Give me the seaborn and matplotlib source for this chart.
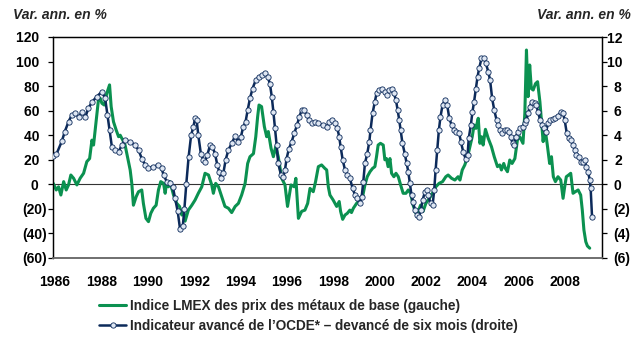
import matplotlib
matplotlib.use("Agg")
import matplotlib.pyplot as plt
import numpy as np
import pandas as pd
import seaborn as sns
from matplotlib.ticker import FixedLocator, FuncFormatter

# ---------------- data ----------------
lmex_dates = [
    1985.92, 1986.05, 1986.15, 1986.25, 1986.37, 1986.48, 1986.58, 1986.68, 1986.80, 1986.94,
    1987.08, 1987.23, 1987.37, 1987.49, 1987.59, 1987.66, 1987.73, 1987.80, 1987.87, 1987.95,
    1988.02, 1988.12, 1988.23, 1988.35, 1988.42, 1988.52, 1988.64, 1988.74, 1988.81, 1988.92,
    1989.02, 1989.14, 1989.24, 1989.31, 1989.38, 1989.50, 1989.60, 1989.74, 1989.81, 1989.92,
    1990.03, 1990.13, 1990.24, 1990.36, 1990.46, 1990.56, 1990.68, 1990.75, 1990.82, 1990.89,
    1990.96, 1991.11, 1991.25, 1991.37, 1991.47, 1991.54, 1991.61, 1991.75, 1991.90, 1992.04,
    1992.18, 1992.33, 1992.47, 1992.62, 1992.76, 1992.83, 1992.93, 1993.05, 1993.19, 1993.33,
    1993.48, 1993.62, 1993.77, 1993.91, 1994.05, 1994.20, 1994.31, 1994.41, 1994.56, 1994.66,
    1994.74, 1994.80, 1994.91, 1995.03, 1995.13, 1995.20, 1995.32, 1995.42, 1995.52, 1995.63,
    1995.78, 1995.92, 1996.03, 1996.18, 1996.32, 1996.39, 1996.50, 1996.64, 1996.78, 1996.90,
    1997.00, 1997.14, 1997.24, 1997.36, 1997.50, 1997.64, 1997.72, 1997.79, 1997.86, 1998.00,
    1998.15, 1998.26, 1998.32, 1998.41, 1998.51, 1998.61, 1998.72, 1998.79, 1998.87, 1999.01,
    1999.15, 1999.27, 1999.37, 1999.47, 1999.59, 1999.70, 1999.80, 1999.87, 1999.94, 2000.04,
    2000.16, 2000.23, 2000.30, 2000.37, 2000.45, 2000.52, 2000.62, 2000.71, 2000.81, 2000.91,
    2001.02, 2001.14, 2001.24, 2001.34, 2001.45, 2001.57, 2001.67, 2001.77, 2001.88, 2002.00,
    2002.10, 2002.20, 2002.32, 2002.43, 2002.57, 2002.72, 2002.86, 2002.96, 2003.11, 2003.25,
    2003.39, 2003.47, 2003.57, 2003.68, 2003.80, 2003.90, 2004.00, 2004.08, 2004.16, 2004.26,
    2004.33, 2004.40, 2004.47, 2004.57, 2004.69, 2004.83, 2004.95, 2005.09, 2005.19, 2005.26,
    2005.36, 2005.43, 2005.52, 2005.62, 2005.72, 2005.84, 2005.95, 2006.05, 2006.19, 2006.27,
    2006.34, 2006.41, 2006.48, 2006.55, 2006.63, 2006.73, 2006.82, 2006.92, 2007.02, 2007.06,
    2007.13, 2007.24, 2007.34, 2007.42, 2007.50, 2007.59, 2007.70, 2007.82, 2007.92, 2007.99,
    2008.06, 2008.16, 2008.25, 2008.35, 2008.45, 2008.57, 2008.68, 2008.75, 2008.82, 2008.90,
    2008.97, 2009.07,
]
lmex_values = [
    0.8, -4.6, -2, -8.7, 2.2, -4.6, -0.5, 7.6, 4.9, -0.5,
    4.9, 9, 18.5, 21, 36, 32, 44, 56.5, 68.7, 70,
    66, 64.6, 74, 81, 63.3, 51, 44, 38.8, 40, 36,
    32, 21, 11.7, 0.8, -17, -10, -6, -4.6, -15.5, -27.7,
    -30.4, -23.6, -19.5, -17, -4.6, 2.2, 0.8, -7.3, 2.2, -2,
    2.2, -8.7, -15.5, -18, -25, -21, -30, -21, -17, -12.8,
    -7.3, -2, 9, 7.6, -0.5, -7.3, 0.8, -2, -10, -18,
    -19.5, -23, -18, -15.5, -8.7, 0.8, 17, 22.5, 25, 38.8,
    55, 64.6, 63.3, 47, 38.8, 43, 29.3, 22.5, 30.7, 22.5,
    4.9, -0.5, -18, -0.5, -2, 4.9, -27.7, -22, -21, -15.5,
    -3.3, -6, 2.2, 14.4, 15.8, 13, 11.7, -2, -8.7, -12.8,
    -18, -14, -22, -28.5, -25, -23.6, -21, -23, -19.5, -15.5,
    -12.8, -10, -0.5, 6.2, 10.3, 13, 14.4, 22.5, 32, 33.4,
    32, 20, 21, 14.4, 21, 9, 6.2, 9, 6.2, -0.5,
    -7.3, -7.3, -4.6, -7.3, -17, -23.6, -22, -17, -22, -15.5,
    -12.8, -10, -6, -2, 0.8, 2.2, 6.2, 7.6, 4.9, 3.5,
    6.2, 3.5, 11.7, 15.8, 22.5, 30.7, 38.8, 48.3, 45.6, 53.8,
    33.4, 38.8, 32, 44.8, 37.5, 30.7, 22.5, 14.4, 15.8, 11.7,
    17, 13, 10.3, 19.8, 17, 21, 36, 38.8, 33.4, 57.8,
    109.4, 71.4, 97.2, 78, 76.8, 82, 83.6, 67.3, 44, 34.8,
    47, 32, 17, 22.5, 6.2, 2.2, 6.2, 3.5, -11.4, -2,
    6.2, 7.6, 9, -7.3, -6, -4.6, -8.7, -21, -37.2, -46.7,
    -50.2, -52,
]

ocde_dates = [
    1985.92, 1986.06, 1986.29, 1986.42, 1986.58, 1986.72, 1986.87, 1987.02, 1987.15, 1987.30,
    1987.44, 1987.59, 1987.80, 1988.02, 1988.16, 1988.26, 1988.35, 1988.45, 1988.59, 1988.74,
    1988.88, 1989.02, 1989.24, 1989.45, 1989.60, 1989.74, 1989.89, 1990.02, 1990.24, 1990.46,
    1990.60, 1990.68, 1990.82, 1990.96, 1991.08, 1991.18, 1991.29, 1991.39, 1991.51, 1991.58,
    1991.66, 1991.76, 1991.87, 1991.97, 1992.04, 1992.11, 1992.18, 1992.29, 1992.40, 1992.47,
    1992.57, 1992.69, 1992.79, 1992.90, 1993.00, 1993.08, 1993.16, 1993.26, 1993.36, 1993.48,
    1993.62, 1993.77, 1993.88, 1994.02, 1994.12, 1994.22, 1994.31, 1994.41, 1994.52, 1994.66,
    1994.80, 1994.94, 1995.06, 1995.17, 1995.27, 1995.35, 1995.42, 1995.49, 1995.56, 1995.63,
    1995.75, 1995.85, 1995.92, 1995.99, 1996.09, 1996.21, 1996.32, 1996.44, 1996.54, 1996.64,
    1996.75, 1996.85, 1996.95, 1997.07, 1997.21, 1997.36, 1997.57, 1997.72, 1997.83, 1997.93,
    1998.08, 1998.18, 1998.26, 1998.32, 1998.41, 1998.51, 1998.61, 1998.72, 1998.84, 1998.94,
    1999.04, 1999.15, 1999.23, 1999.30, 1999.37, 1999.47, 1999.56, 1999.61, 1999.70, 1999.80,
    1999.87, 1999.97, 2000.09, 2000.23, 2000.33, 2000.42, 2000.52, 2000.62, 2000.71, 2000.78,
    2000.85, 2000.91, 2000.99, 2001.09, 2001.17, 2001.24, 2001.31, 2001.38, 2001.45, 2001.52,
    2001.62, 2001.71, 2001.78, 2001.86, 2001.96, 2002.03, 2002.10, 2002.20, 2002.29, 2002.36,
    2002.42, 2002.49, 2002.56, 2002.63, 2002.72, 2002.82, 2002.92, 2003.01, 2003.11, 2003.21,
    2003.32, 2003.44, 2003.51, 2003.61, 2003.71, 2003.80, 2003.85, 2003.94, 2004.01, 2004.08,
    2004.16, 2004.23, 2004.30, 2004.40, 2004.51, 2004.59, 2004.69, 2004.77, 2004.86, 2004.95,
    2005.05, 2005.12, 2005.22, 2005.30, 2005.41, 2005.51, 2005.59, 2005.66, 2005.74, 2005.81,
    2005.88, 2005.98, 2006.08, 2006.17, 2006.27, 2006.34, 2006.41, 2006.48, 2006.58, 2006.70,
    2006.77, 2006.84, 2006.93, 2007.02, 2007.10, 2007.19, 2007.27, 2007.37, 2007.49, 2007.59,
    2007.70, 2007.82, 2007.92, 2007.99, 2008.08, 2008.16, 2008.25, 2008.35, 2008.42, 2008.49,
    2008.59, 2008.68, 2008.78, 2008.85, 2008.92, 2009.00, 2009.07, 2009.11, 2009.17,
]
ocde_values = [
    2.30, 2.47, 3.50, 4.30, 5.10, 5.65, 5.79, 5.46, 5.90, 5.46,
    6.20, 6.70, 7.15, 7.55, 7.00, 5.65, 4.40, 3.07, 2.80, 2.66,
    3.20, 3.60, 3.48, 3.20, 2.80, 2.10, 1.58, 1.30, 1.44, 1.58,
    1.30, 0.76, 0.22, 0.08, -0.20, -1.14, -2.20, -3.60, -3.40, -2.00,
    0.00, 2.20, 4.00, 4.70, 5.38, 5.20, 4.00, 2.50, 2.00, 1.85,
    2.40, 3.20, 3.07, 2.50, 1.58, 1.03, 0.49, 0.90, 2.00, 2.80,
    3.34, 3.94, 3.48, 3.88, 4.70, 5.10, 6.05, 7.00, 7.80, 8.50,
    8.77, 8.90, 9.10, 8.77, 8.20, 7.14, 5.90, 4.56, 3.20, 1.70,
    0.76, 0.62, 1.17, 2.10, 2.90, 3.48, 4.15, 4.83, 5.50, 6.05,
    6.05, 5.65, 5.24, 4.97, 5.10, 4.97, 4.83, 4.70, 5.10, 5.24,
    4.97, 4.56, 3.88, 3.07, 2.00, 1.17, 0.76, 0.49, -0.33, -0.87,
    -1.14, -1.55, -1.00, 0.22, 1.70, 2.50, 3.48, 4.40, 5.80, 6.73,
    7.40, 7.68, 7.80, 7.55, 7.28, 7.68, 7.80, 7.40, 6.87, 6.05,
    5.24, 4.40, 3.34, 2.50, 1.70, 1.03, 0.08, -0.87, -1.40, -2.10,
    -2.50, -2.63, -2.10, -1.28, -0.60, -0.46, -0.87, -1.55, -1.70, -0.46,
    1.17, 2.80, 4.40, 5.50, 6.46, 6.87, 6.46, 5.38, 4.83, 4.40,
    4.30, 4.15, 3.48, 2.66, 2.10, 2.40, 3.75, 4.83, 5.90, 6.73,
    7.80, 8.77, 9.45, 10.26, 10.26, 9.86, 9.18, 8.50, 7.00, 6.05,
    5.24, 4.83, 4.40, 4.15, 4.40, 4.40, 4.30, 3.88, 3.34, 3.20,
    3.88, 4.30, 4.56, 4.70, 4.97, 5.24, 5.78, 6.33, 6.73, 6.60,
    6.46, 5.90, 5.24, 4.83, 4.56, 4.30, 4.97, 5.24, 5.30, 5.38,
    5.57, 5.90, 5.78, 5.24, 4.15, 3.75, 3.60, 3.20, 2.80, 2.40,
    2.25, 1.85, 1.85, 1.98, 1.44, 1.03, 0.35, -0.33, -2.63,
]

year_ticks = list(range(1986, 2009, 2))
left_ticks = [-60, -40, -20, 0, 20, 40, 60, 80, 100, 120]
right_ticks = [-6, -4, -2, 0, 2, 4, 6, 8, 10, 12]

label_lmex = "Indice LMEX des prix des métaux de base (gauche)"
label_ocde = "Indicateur avancé de l’OCDE* – devancé de six mois (droite)"
unit_text = "Var. ann. en %"

# ---------------- styling ----------------
GREEN = "#0b9150"
NAVY = "#0c2a5a"
MFC = "#dfe7f3"
FS = 10

sns.set_style("white")
plt.rcParams["font.family"] = ["Liberation Sans", "DejaVu Sans"]
plt.rcParams["font.weight"] = "bold"

df_lmex = pd.DataFrame({"date": lmex_dates, "val": lmex_values})
df_ocde = pd.DataFrame({"date": ocde_dates, "val": ocde_values})

W, H = 644, 346
fig = plt.figure(figsize=(W / 100, H / 100), dpi=100)
ax = fig.add_axes([53 / W, 1 - 258 / H, (602 - 53) / W, (258 - 37) / H])
ax2 = ax.twinx()

ax.axhline(0, color="#333333", lw=0.8, zorder=1)

sns.lineplot(data=df_lmex, x="date", y="val", ax=ax, color=GREEN, linewidth=2.2,
             label=label_lmex, zorder=3)
sns.lineplot(data=df_ocde, x="date", y="val", ax=ax2, color=NAVY, linewidth=1.8,
             marker="o", markersize=3.8, markerfacecolor=MFC, markeredgecolor=NAVY,
             markeredgewidth=0.6, label=label_ocde, zorder=4)

for a in (ax, ax2):
    a.set_xlabel("")
    a.set_ylabel("")
    leg = a.get_legend()
    if leg is not None:
        leg.remove()

ax.set_xlim(1985.91, 2009.6)
ax.set_ylim(-60, 120)
ax2.set_ylim(-6, 12)


def paren_fmt(v, pos):
    v = int(round(v))
    return f"({abs(v)})" if v < 0 else f"{v}  "


ax.xaxis.set_major_locator(FixedLocator(year_ticks))
ax.xaxis.set_major_formatter(FuncFormatter(lambda v, p: f"{int(round(v))}"))
ax.yaxis.set_major_locator(FixedLocator(left_ticks))
ax.yaxis.set_major_formatter(FuncFormatter(paren_fmt))
ax2.yaxis.set_major_locator(FixedLocator(right_ticks))
ax2.yaxis.set_major_formatter(FuncFormatter(paren_fmt))

ax.tick_params(axis="x", length=0, pad=12, labelsize=FS, colors="black")
ax.tick_params(axis="y", direction="out", length=3.6, width=0.9, pad=0.8,
               labelsize=FS, colors="black", left=True)
ax2.tick_params(axis="y", direction="out", length=3.6, width=0.9, pad=16.5,
                labelsize=FS, colors="black", right=True)
for t in ax2.yaxis.get_major_ticks():
    t.label2.set_horizontalalignment("right")
for lab in ax.get_xticklabels() + ax.get_yticklabels() + ax2.get_yticklabels():
    lab.set_fontweight("bold")

for a in (ax, ax2):
    a.grid(False)
    for side in ("top", "left", "right"):
        a.spines[side].set_color("black")
        a.spines[side].set_linewidth(0.9)
    a.spines["bottom"].set_color("#6e6e6e")
    a.spines["bottom"].set_linewidth(1.2)
ax.set_facecolor("white")
ax2.patch.set_visible(False)

fig.text(13 / W, 1 - 15 / H, unit_text, ha="left", va="center", fontsize=FS,
         fontweight="bold", fontstyle="italic")
fig.text(631 / W, 1 - 15 / H, unit_text, ha="right", va="center", fontsize=FS,
         fontweight="bold", fontstyle="italic")

h1, l1 = ax.get_legend_handles_labels()
h2, l2 = ax2.get_legend_handles_labels()
fig.legend(h1 + h2, l1 + l2, loc="upper left", bbox_to_anchor=(99 / W, 1 - 299 / H),
           frameon=False, borderpad=0, borderaxespad=0, handlelength=2.0,
           handletextpad=0.25, labelspacing=0.45,
           prop={"size": 9.8, "weight": "bold"})

fig.savefig("out.png", dpi=100, facecolor="white")
